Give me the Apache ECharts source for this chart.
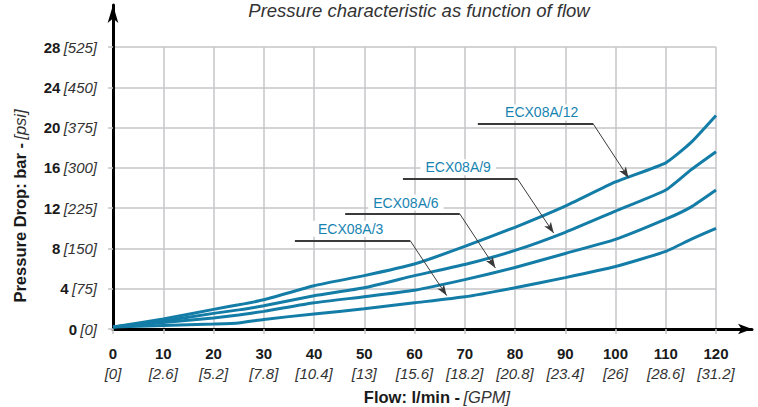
<!DOCTYPE html>
<html>
<head>
<meta charset="utf-8">
<script src="https://cdn.jsdelivr.net/npm/echarts@6/dist/echarts.min.js"></script>
<style>
html,body{margin:0;padding:0;background:#fff;}
#c{width:758px;height:407px;}
</style>
</head>
<body>
<div id="c"></div>
<script>
// ---- data ----
const flow = [0, 10, 20, 25, 30, 40, 50, 60, 70, 80, 90, 100, 110, 115, 120];
const ecx12 = [0.2, 1.0, 1.95, 2.4, 2.9, 4.3, 5.3, 6.45, 8.2, 10.1, 12.2, 14.6, 16.5, 18.5, 21.2];
const ecx9  = [0.2, 0.8, 1.55, 1.9, 2.3, 3.3, 4.1, 5.3, 6.4, 7.8, 9.6, 11.7, 13.8, 15.8, 17.6];
const ecx6  = [0.2, 0.65, 1.1, 1.4, 1.75, 2.6, 3.2, 3.85, 4.9, 6.1, 7.5, 8.9, 10.9, 12.1, 13.8];
const ecx3  = [0.2, 0.35, 0.5, 0.6, 0.95, 1.5, 2.0, 2.6, 3.2, 4.1, 5.1, 6.2, 7.7, 8.9, 10.0];
const seriesNames = ['ECX08A/12', 'ECX08A/9', 'ECX08A/6', 'ECX08A/3'];
const xTickGpm = ['0','2.6','5.2','7.8','10.4','13','15.6','18.2','20.8','23.4','26','28.6','31.2'];
const yTickPsi = ['0','75','150','225','300','375','450','525'];
// annotation anchors (data coordinates)
const labelPos    = [[85.3, 21.5], [68.7, 16.06], [58.3, 12.55], [47.3, 9.95]];
const leaderStart = [[72.6, 20.34], [57.7, 14.9], [46.2, 11.44], [36.2, 8.8]];
const leaderElbow = [[95.6, 20.34], [80.5, 14.9], [69.0, 11.44], [59.1, 8.8]];
const leaderTip   = [[102.6, 15.0], [87.7, 9.52], [76.1, 6.06], [66.4, 3.32]];

const FONT = '"Liberation Sans", Arial, Helvetica, sans-serif';
const BLUE = '#137da7';
const LBLUE = '#1783b1';
const GRID = '#c6c6ca';

const values = [ecx12, ecx9, ecx6, ecx3];

const chart = echarts.init(document.getElementById('c'), null, {renderer: 'svg'});

const series = values.map((vals, i) => ({
  type: 'line',
  name: seriesNames[i],
  xAxisIndex: 0, yAxisIndex: 0,
  data: flow.map((f, k) => [f, vals[k]]),
  symbol: 'none',
  smooth: 0.15,
  lineStyle: {color: BLUE, width: 3},
  z: 3,
  markLine: {
    silent: true,
    animation: false,
    label: {show: false},
    data: [
      [{coord: leaderStart[i], symbol: 'none', lineStyle: {color: '#3a3a3a', width: 2, type: 'solid'}},
       {coord: leaderElbow[i], symbol: 'none'}],
      [{coord: leaderElbow[i], symbol: 'none', lineStyle: {color: '#3a3a3a', width: 1, type: 'solid'}},
       {coord: leaderTip[i], symbol: 'arrow', symbolSize: [6, 11]}]
    ]
  },
  markPoint: {
    silent: true,
    animation: false,
    symbol: 'rect',
    symbolSize: 1,
    itemStyle: {color: 'rgba(0,0,0,0)'},
    data: [{
      coord: labelPos[i],
      label: {
        show: true,
        position: 'inside',
        formatter: seriesNames[i],
        color: LBLUE,
        fontFamily: FONT,
        fontSize: 14,
        backgroundColor: '#fff',
        padding: [1, 5]
      }
    }]
  }
}));

const option = {
  animation: false,
  backgroundColor: '#fff',
  title: {
    text: 'Pressure characteristic as function of flow',
    left: 414, top: -4, textAlign: 'center',
    textStyle: {fontFamily: FONT, fontSize: 18.5, fontStyle: 'italic', fontWeight: 'normal', color: '#333'}
  },
  grid: [
    {left: 113, right: 42, top: 47, bottom: 78, outerBoundsMode: 'none', containLabel: false},
    {left: 113, right: 6, top: 5, bottom: 78, outerBoundsMode: 'none', containLabel: false}
  ],
  xAxis: [{
    type: 'value', gridIndex: 0, min: 0, max: 120, interval: 10,
    axisLine: {show: false},
    axisTick: {show: true, length: 5, lineStyle: {color: GRID, width: 1.5}},
    splitLine: {show: true, lineStyle: {color: GRID, width: 1.5}},
    axisLabel: {
      margin: 14,
      formatter: v => '{a|' + v + '}\n{b|[' + xTickGpm[Math.round(v / 10)] + ']}',
      rich: {
        a: {fontFamily: FONT, fontSize: 15, fontWeight: 'bold', color: '#1a1a1a', lineHeight: 20, align: 'center'},
        b: {fontFamily: FONT, fontSize: 15, fontStyle: 'italic', color: '#333', lineHeight: 20, align: 'center'}
      }
    }
  }, {
    type: 'value', gridIndex: 1, min: 0, max: 1,
    axisLine: {show: true, symbol: ['none', 'arrow'], symbolSize: [8, 14], lineStyle: {color: '#000', width: 3}},
    axisTick: {show: false}, axisLabel: {show: false}, splitLine: {show: false}
  }],
  yAxis: [{
    type: 'value', gridIndex: 0, min: 0, max: 28, interval: 4,
    axisLine: {show: false},
    axisTick: {show: true, length: 5, lineStyle: {color: GRID, width: 1.5}},
    splitLine: {show: true, lineStyle: {color: GRID, width: 1.5}},
    axisLabel: {
      margin: 16,
      formatter: v => '{a|' + v + '} {b|[' + yTickPsi[Math.round(v / 4)] + ']}',
      rich: {
        a: {fontFamily: FONT, fontSize: 15, fontWeight: 'bold', color: '#1a1a1a'},
        b: {fontFamily: FONT, fontSize: 15, fontStyle: 'italic', color: '#333'}
      }
    }
  }, {
    type: 'value', gridIndex: 1, min: 0, max: 1,
    axisLine: {show: true, symbol: ['none', 'arrow'], symbolSize: [8, 18], lineStyle: {color: '#000', width: 3}},
    axisTick: {show: false}, axisLabel: {show: false}, splitLine: {show: false}
  }],
  graphic: [{
    type: 'text',
    x: 20, y: 206,
    rotation: Math.PI / 2,
    style: {
      text: '{a|Pressure Drop: bar -} {b|[psi]}',
      align: 'center', verticalAlign: 'middle',
      rich: {
        a: {fontFamily: FONT, fontSize: 16.5, fontWeight: 'bold', fill: '#1a1a1a'},
        b: {fontFamily: FONT, fontSize: 16.5, fontStyle: 'italic', fill: '#333'}
      }
    }
  }, {
    type: 'text',
    x: 437, y: 397,
    style: {
      text: '{a|Flow: l/min -} {b|[GPM]}',
      align: 'center', verticalAlign: 'middle',
      rich: {
        a: {fontFamily: FONT, fontSize: 16.5, fontWeight: 'bold', fill: '#1a1a1a'},
        b: {fontFamily: FONT, fontSize: 16.5, fontStyle: 'italic', fill: '#333'}
      }
    }
  }],
  series: series
};

chart.setOption(option);
</script>
</body>
</html>
